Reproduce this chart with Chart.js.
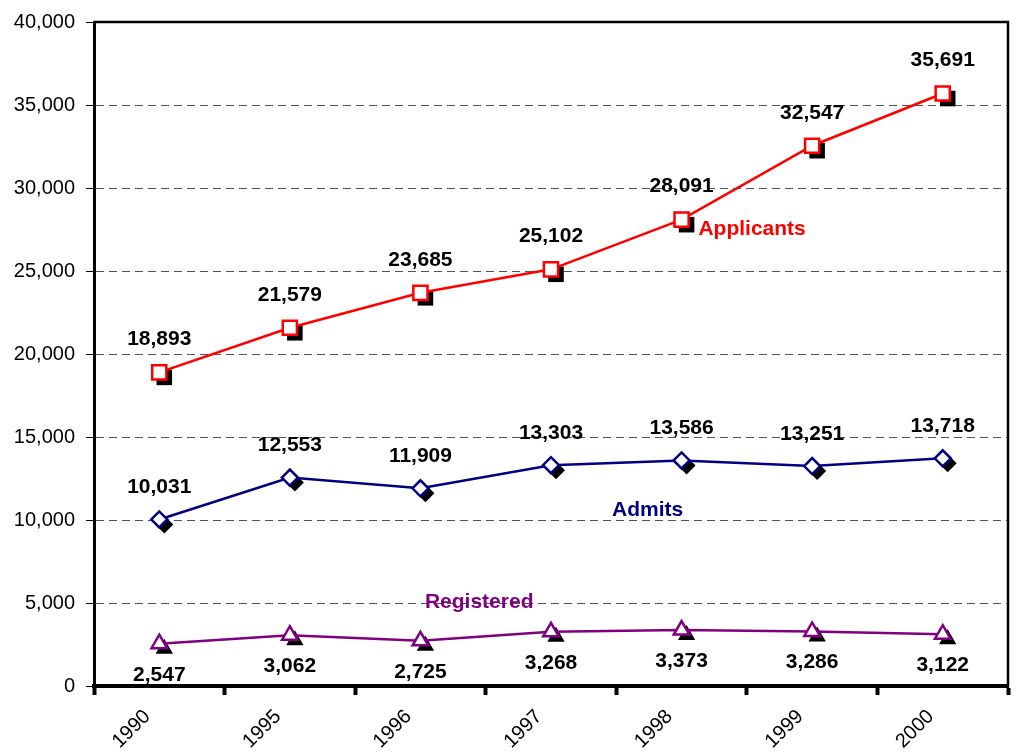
<!DOCTYPE html>
<html><head><meta charset="utf-8">
<style>html,body{margin:0;padding:0;background:#fff}#wrap{width:1016px;height:754px}</style>
<script src="https://cdn.jsdelivr.net/npm/chart.js@4.4.1/dist/chart.umd.min.js"></script>
</head><body><div id="wrap"><canvas id="c" width="1016" height="754"></canvas></div>
<script>
const years = ['1990', '1995', '1996', '1997', '1998', '1999', '2000'];
const applicants = [18893, 21579, 23685, 25102, 28091, 32547, 35691];
const admits = [10031, 12553, 11909, 13303, 13586, 13251, 13718];
const registered = [2547, 3062, 2725, 3268, 3373, 3286, 3122];
const seriesNames = ['Applicants', 'Admits', 'Registered'];
const yMin = 0, yMax = 40000, yStep = 5000;

const FONT = '"Liberation Sans", Arial, sans-serif';
const fmt = v => v.toLocaleString('en-US');

function shapePath(ctx, style, x, y, r) {
  ctx.beginPath();
  if (style === 'rect') {
    const s = r * Math.SQRT1_2;
    ctx.rect(x - s, y - s, 2 * s, 2 * s);
  } else if (style === 'rectRot') {
    ctx.moveTo(x, y - r); ctx.lineTo(x + r, y); ctx.lineTo(x, y + r); ctx.lineTo(x - r, y);
    ctx.closePath();
  } else if (style === 'triangle') {
    let a = 0;
    ctx.moveTo(x + Math.sin(a) * r, y - Math.cos(a) * r);
    a += 2 * Math.PI / 3;
    ctx.lineTo(x + Math.sin(a) * r, y - Math.cos(a) * r);
    a += 2 * Math.PI / 3;
    ctx.lineTo(x + Math.sin(a) * r, y - Math.cos(a) * r);
    ctx.closePath();
  }
}

const decorPlugin = {
  id: 'decor',
  beforeDatasetsDraw(chart) {
    const ctx = chart.ctx;
    ctx.save();
    chart.data.datasets.forEach((ds, i) => {
      const meta = chart.getDatasetMeta(i);
      meta.data.forEach(pt => {
        shapePath(ctx, ds.pointStyle, pt.x + 5, pt.y + 5, ds.pointRadius + 1);
        ctx.fillStyle = '#000';
        ctx.fill();
      });
    });
    ctx.restore();
  },
  afterDraw(chart) {
    const ctx = chart.ctx;
    const a = chart.chartArea;
    ctx.save();
    ctx.strokeStyle = '#000';
    ctx.lineWidth = 2.5;
    ctx.beginPath();
    ctx.moveTo(a.left, a.top); ctx.lineTo(a.right, a.top); ctx.lineTo(a.right, a.bottom);
    ctx.stroke();
    ctx.font = 'bold 21px ' + FONT;
    ctx.fillStyle = '#000';
    ctx.textAlign = 'center';
    ctx.textBaseline = 'middle';
    chart.data.datasets.forEach((ds, i) => {
      const meta = chart.getDatasetMeta(i);
      meta.data.forEach((pt, j) => {
        ctx.fillText(fmt(ds.data[j]), pt.x, pt.y + ds.labelShift);
      });
    });
    const xs = chart.scales.x, ys = chart.scales.y;
    const namePos = [[4.54, 27530], [3.74, 10600], [2.45, 5060]];
    chart.data.datasets.forEach((ds, i) => {
      ctx.fillStyle = ds.borderColor;
      ctx.fillText(seriesNames[i], xs.getPixelForValue(namePos[i][0]), ys.getPixelForValue(namePos[i][1]));
    });
    ctx.restore();
  }
};

new Chart(document.getElementById('c'), {
  type: 'line',
  data: {
    labels: years,
    datasets: [
      { label: seriesNames[0], data: applicants, borderColor: '#FF0000', backgroundColor: '#FFFFFF',
        pointStyle: 'rect', pointRadius: 10, pointBorderWidth: 2.5, borderWidth: 2.5, labelShift: -33 },
      { label: seriesNames[1], data: admits, borderColor: '#000080', backgroundColor: '#FFFFFF',
        pointStyle: 'rectRot', pointRadius: 8, pointBorderWidth: 2.5, borderWidth: 2.5, labelShift: -32 },
      { label: seriesNames[2], data: registered, borderColor: '#800080', backgroundColor: '#FFFFFF',
        pointStyle: 'triangle', pointRadius: 9, pointBorderWidth: 2.5, borderWidth: 2.5, labelShift: 31 }
    ]
  },
  options: {
    responsive: false,
    animation: false,
    layout: { autoPadding: false, padding: { top: 22, right: 8, left: 0, bottom: 0 } },
    plugins: { legend: { display: false }, tooltip: { enabled: false } },
    elements: { line: { tension: 0 } },
    scales: {
      x: {
        offset: true,
        grid: { offset: true, drawOnChartArea: false, drawTicks: true, tickLength: 9, tickWidth: 4, tickColor: '#000' },
        border: { color: '#000', width: 4 },
        ticks: { color: '#000', font: { family: FONT, size: 20 }, maxRotation: 45, minRotation: 45, autoSkip: false, padding: 10, labelOffset: -12 },
        afterFit(s) { s.height = 68; s.paddingLeft = 0; s.paddingRight = 0; }
      },
      y: {
        min: yMin, max: yMax,
        grid: {
          color: c => (c.tick && (c.tick.value === yMin || c.tick.value === yMax)) ? 'rgba(0,0,0,0)' : '#555',
          lineWidth: 1,
          tickLength: 8, tickColor: '#000', tickWidth: 1, tickBorderDash: [1, 0]
        },
        border: { color: '#000', width: 3, dash: [8, 5] },
        ticks: { stepSize: yStep, color: '#000', font: { family: FONT, size: 20 }, padding: 11, callback: v => fmt(v) },
        afterFit(s) { s.width = 94; s.paddingTop = 0; s.paddingBottom = 0; }
      }
    }
  },
  plugins: [decorPlugin]
});
</script></body></html>
